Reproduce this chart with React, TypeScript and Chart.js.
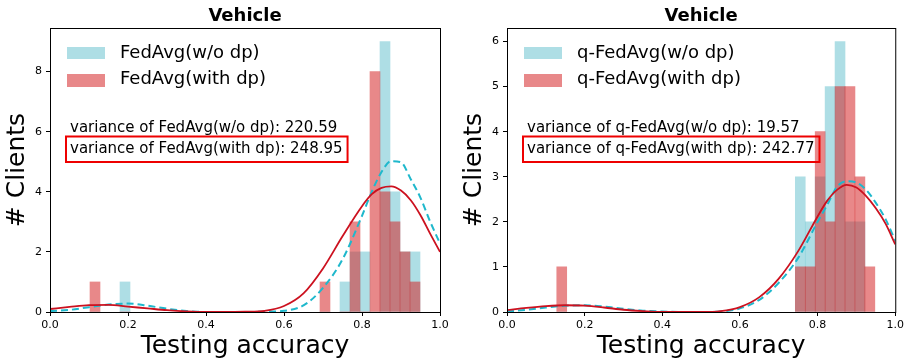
import React, { useEffect, useRef } from 'react';
import { Chart, registerables } from 'chart.js';

Chart.register(...registerables);

const FONT = 'DejaVu Sans';

// ---------- Left panel: FedAvg ----------
const fedBinCenters = [0.1154, 0.1923, 0.7051, 0.7564, 0.7821, 0.8077, 0.8333, 0.859, 0.8846, 0.9103, 0.9359];
const fedWoDpCounts = [0, 1, 0, 1, 2, 2, 0, 9, 4, 2, 2];
const fedWithDpCounts = [1, 0, 1, 0, 3, 0, 8, 4, 3, 2, 1];

// ---------- Right panel: q-FedAvg ----------
const qBinCenters = [0.141, 0.7554, 0.781, 0.8066, 0.8322, 0.8578, 0.8834, 0.909, 0.9346];
const qWoDpCounts = [0, 3, 2, 3, 5, 6, 2, 2, 0];
const qWithDpCounts = [1, 1, 1, 4, 2, 5, 5, 3, 1];

// ---------- Density curves ----------
const curveX = [0, 0.05, 0.1, 0.15, 0.2, 0.25, 0.3, 0.35, 0.4, 0.45, 0.5, 0.55, 0.6, 0.65, 0.7, 0.75, 0.8, 0.825, 0.85, 0.875, 0.9, 0.925, 0.95, 0.975, 1.0];
const fedWoDpCurve = [0.03, 0.07, 0.16, 0.25, 0.28, 0.21, 0.11, 0.03, 0.0, 0.0, 0.0, 0.01, 0.04, 0.22, 0.8, 1.75, 3.2, 4.0, 4.66, 5.02, 4.98, 4.42, 3.8, 3.0, 2.28];
const fedWithDpCurve = [0.1, 0.17, 0.23, 0.24, 0.18, 0.12, 0.06, 0.02, 0.0, 0.0, 0.01, 0.04, 0.2, 0.62, 1.45, 2.52, 3.52, 3.92, 4.13, 4.18, 4.04, 3.72, 3.22, 2.6, 2.0];
const qWoDpCurve = [0.01, 0.05, 0.1, 0.14, 0.15, 0.12, 0.07, 0.03, 0.01, 0.0, 0.0, 0.01, 0.08, 0.27, 0.65, 1.2, 2.0, 2.38, 2.78, 2.9, 2.87, 2.71, 2.42, 2.06, 1.58];
const qWithDpCurve = [0.04, 0.09, 0.13, 0.15, 0.14, 0.1, 0.05, 0.02, 0.0, 0.0, 0.0, 0.02, 0.11, 0.33, 0.74, 1.35, 2.12, 2.47, 2.71, 2.82, 2.76, 2.57, 2.3, 1.96, 1.5];

// ---------- Texts ----------
const chartTitle = 'Vehicle';
const xTitle = 'Testing accuracy';
const yTitle = '# Clients';
const fedLegend = ['FedAvg(w/o dp)', 'FedAvg(with dp)'];
const qLegend = ['q-FedAvg(w/o dp)', 'q-FedAvg(with dp)'];
const fedVariance = ['variance of FedAvg(w/o dp): 220.59', 'variance of FedAvg(with dp): 248.95'];
const qVariance = ['variance of q-FedAvg(w/o dp): 19.57', 'variance of q-FedAvg(with dp): 242.77'];

const CYAN_BAR = 'rgba(120,200,212,0.6)';
const RED_BAR = 'rgba(214,39,40,0.55)';
const CYAN_LINE = '#1fb8cc';
const RED_LINE = '#cc111f';

type PanelProps = {
  width: number;
  yAxisWidth: number;
  padRight: number;
  yTitlePad: number;
  yMax: number;
  yStep: number;
  centers: number[];
  woDp: number[];
  withDp: number[];
  woCurve: number[];
  withCurve: number[];
  legend: string[];
  variance: string[];
};

function Panel(p: PanelProps) {
  const ref = useRef<HTMLCanvasElement>(null);
  useEffect(() => {
    const annot = {
      id: 'annot',
      afterDraw(chart: any) {
        const ctx = chart.ctx as CanvasRenderingContext2D;
        const a = chart.chartArea;
        ctx.save();
        // frame
        ctx.strokeStyle = '#000';
        ctx.lineWidth = 1;
        ctx.strokeRect(a.left + 0.5, a.top + 0.5, a.right - a.left, a.bottom - a.top);
        // title
        ctx.fillStyle = '#000';
        ctx.font = `bold 18px "${FONT}"`;
        ctx.textAlign = 'center';
        ctx.textBaseline = 'alphabetic';
        ctx.fillText(chartTitle, (a.left + a.right) / 2, 21);
        // legend
        ctx.textAlign = 'left';
        ctx.fillStyle = CYAN_BAR;
        ctx.fillRect(a.left + 17, a.top + 19, 38, 12);
        ctx.fillStyle = RED_BAR;
        ctx.fillRect(a.left + 17, a.top + 46, 38, 13);
        ctx.fillStyle = '#000';
        ctx.font = `18px "${FONT}"`;
        ctx.fillText(p.legend[0], a.left + 70, a.top + 29.5);
        ctx.fillText(p.legend[1], a.left + 70, a.top + 56);
        // variance annotations
        ctx.font = `15px "${FONT}"`;
        const tx = a.left + 20;
        ctx.fillText(p.variance[0], tx, a.top + 103.7);
        ctx.fillText(p.variance[1], tx, a.top + 124.7);
        const w = ctx.measureText(p.variance[1]).width;
        ctx.strokeStyle = '#ee0000';
        ctx.lineWidth = 2;
        ctx.strokeRect(tx - 4, a.top + 108.5, w + 9, 25.5);
        ctx.restore();
      },
    };

    const chart = new Chart(ref.current!, {
      type: 'bar',
      data: {
        datasets: [
          {
            type: 'line',
            data: curveX.map((x, i) => ({ x, y: p.withCurve[i] })),
            borderColor: RED_LINE,
            borderWidth: 1.8,
            pointRadius: 0,
            cubicInterpolationMode: 'monotone',
            order: 0,
          },
          {
            type: 'line',
            data: curveX.map((x, i) => ({ x, y: p.woCurve[i] })),
            borderColor: CYAN_LINE,
            borderWidth: 2,
            borderDash: [7, 4],
            pointRadius: 0,
            cubicInterpolationMode: 'monotone',
            order: 1,
          },
          {
            type: 'bar',
            data: p.centers.map((x, i) => ({ x, y: p.withDp[i] })),
            backgroundColor: RED_BAR,
            borderWidth: 0,
            grouped: false,
            barPercentage: 1,
            categoryPercentage: 1,
            order: 2,
          },
          {
            type: 'bar',
            data: p.centers.map((x, i) => ({ x, y: p.woDp[i] })),
            backgroundColor: CYAN_BAR,
            borderWidth: 0,
            grouped: false,
            barPercentage: 1,
            categoryPercentage: 1,
            order: 3,
          },
        ] as any,
      },
      options: {
        responsive: false,
        animation: false,
        devicePixelRatio: 1,
        layout: { padding: { top: 28, right: p.padRight, left: 0, bottom: 0 } },
        plugins: { legend: { display: false }, tooltip: { enabled: false }, title: { display: false } },
        scales: {
          x: {
            type: 'linear',
            min: 0,
            max: 1,
            offset: false,
            grid: { drawOnChartArea: false, tickLength: 4, color: '#000', offset: false },
            border: { color: '#000', width: 1 },
            ticks: {
              stepSize: 0.2,
              autoSkip: false,
              maxRotation: 0,
              padding: 3,
              color: '#000',
              font: { family: FONT, size: 11 },
              callback: (v: any) => Number(v).toFixed(1),
            },
            title: {
              display: true,
              text: xTitle,
              color: '#000',
              font: { family: FONT, size: 25 },
              padding: { top: 0, bottom: 3 },
            },
            afterFit: (s: any) => {
              s.height = 52;
            },
          },
          y: {
            type: 'linear',
            min: 0,
            max: p.yMax,
            grid: { drawOnChartArea: false, tickLength: 4, color: '#000' },
            border: { color: '#000', width: 1 },
            ticks: {
              stepSize: p.yStep,
              padding: 4,
              color: '#000',
              font: { family: FONT, size: 11 },
            },
            afterBuildTicks: (s: any) => {
              s.ticks = s.ticks.filter((t: any) => Math.abs(t.value / p.yStep - Math.round(t.value / p.yStep)) < 1e-6);
            },
            title: {
              display: true,
              text: yTitle,
              color: '#000',
              font: { family: FONT, size: 25 },
              padding: { top: p.yTitlePad, bottom: 0 },
            },
            afterFit: (s: any) => {
              s.width = p.yAxisWidth;
            },
          },
        },
      } as any,
      plugins: [annot],
    });
    return () => chart.destroy();
  }, []);
  return <canvas ref={ref} width={p.width} height={364} style={{ display: 'block', width: p.width, height: 364 }} />;
}

export default function App() {
  useEffect(() => {
    document.body.style.margin = '0';
  }, []);
  return (
    <div style={{ display: 'flex', width: 907, height: 364, background: '#fff' }}>
      <Panel
        width={453}
        yAxisWidth={50}
        padRight={13}
        yTitlePad={2}
        yMax={9.45}
        yStep={2}
        centers={fedBinCenters}
        woDp={fedWoDpCounts}
        withDp={fedWithDpCounts}
        woCurve={fedWoDpCurve}
        withCurve={fedWithDpCurve}
        legend={fedLegend}
        variance={fedVariance}
      />
      <Panel
        width={454}
        yAxisWidth={54}
        padRight={10}
        yTitlePad={6}
        yMax={6.3}
        yStep={1}
        centers={qBinCenters}
        woDp={qWoDpCounts}
        withDp={qWithDpCounts}
        woCurve={qWoDpCurve}
        withCurve={qWithDpCurve}
        legend={qLegend}
        variance={qVariance}
      />
    </div>
  );
}
